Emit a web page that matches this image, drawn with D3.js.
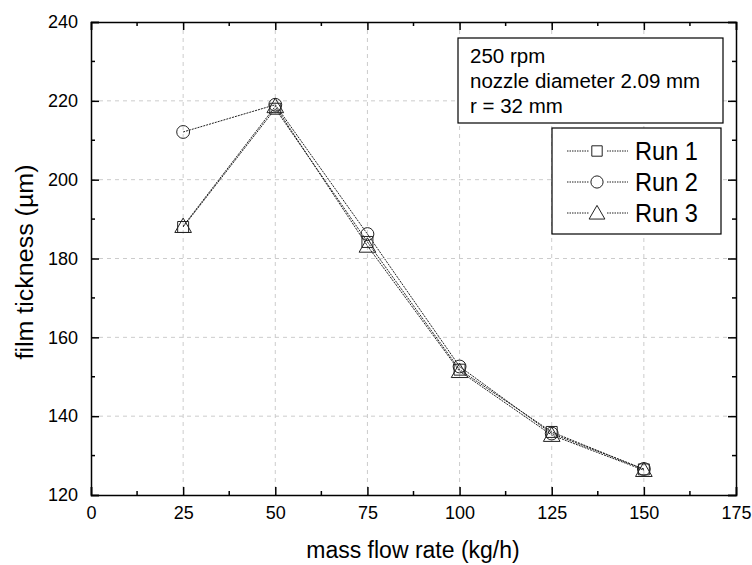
<!DOCTYPE html>
<html>
<head>
<meta charset="utf-8">
<script src="https://cdn.jsdelivr.net/npm/d3@7"></script>
<style>
  body { margin: 0; background: #fff; }
  text { font-family: "Liberation Sans", Arial, sans-serif; }
</style>
</head>
<body>
<svg id="chart" width="752" height="565"></svg>
<script>
const flowRates = [25, 50, 75, 100, 125, 150];
const run1 = [188, 218, 184.2, 151.8, 136, 126.5];
const run2 = [212.1, 219, 186.2, 152.6, 135.6, 126.6];
const run3 = [188.2, 218.6, 183.2, 151.4, 135.2, 126.3];
const xTicks = [0, 25, 50, 75, 100, 125, 150, 175];
const yTicks = [120, 140, 160, 180, 200, 220, 240];
const infoLines = ["250 rpm", "nozzle diameter 2.09 mm", "r = 32 mm"];
const runNames = ["Run 1", "Run 2", "Run 3"];

const svg = d3.select("#chart");
const pLeft = 91, pRight = 736, pTop = 22, pBottom = 495;

const x = d3.scaleLinear().domain([0, 175]).range([pLeft, pRight]);
const y = d3.scaleLinear().domain([120, 240]).range([pBottom, pTop]);

// grid
const grid = svg.append("g")
  .attr("stroke", "#cccccc")
  .attr("stroke-dasharray", "4,4")
  .attr("stroke-width", 1);
grid.selectAll("line.v").data(xTicks.slice(1, -1)).join("line")
  .attr("class", "v")
  .attr("x1", d => x(d)).attr("x2", d => x(d))
  .attr("y1", pTop).attr("y2", pBottom);
grid.selectAll("line.h").data(yTicks.slice(1, -1)).join("line")
  .attr("class", "h")
  .attr("x1", pLeft).attr("x2", pRight)
  .attr("y1", d => y(d)).attr("y2", d => y(d));

// axes, ticks inward, mirrored on top/right
const xMinor = d3.range(12.5, 175, 25);
const yMinor = d3.range(130, 240, 20);

function addX(pos, dir) {
  const g = svg.append("g").attr("transform", `translate(0,${pos})`);
  const a = dir > 0 ? d3.axisBottom(x) : d3.axisTop(x);
  g.call(a.tickValues(xTicks).tickSize(-8).tickFormat(dir > 0 ? d3.format("d") : ""));
  g.selectAll(".tick line").attr("stroke", "#000").attr("stroke-width", 1.5);
  g.select(".domain").attr("stroke", "#000").attr("stroke-width", 1.5);
  g.selectAll(".minor").data(xMinor).join("line")
    .attr("x1", d => x(d)).attr("x2", d => x(d))
    .attr("y1", 0).attr("y2", dir > 0 ? -4 : 4)
    .attr("stroke", "#000").attr("stroke-width", 1.5);
  g.selectAll(".tick text").attr("font-size", 18).attr("fill", "#000")
    .attr("font-family", "Liberation Sans, Arial, sans-serif").attr("y", 11);
}
function addY(pos, dir) {
  const g = svg.append("g").attr("transform", `translate(${pos},0)`);
  const a = dir < 0 ? d3.axisLeft(y) : d3.axisRight(y);
  g.call(a.tickValues(yTicks).tickSize(-8).tickFormat(dir < 0 ? d3.format("d") : ""));
  g.selectAll(".tick line").attr("stroke", "#000").attr("stroke-width", 1.5);
  g.select(".domain").attr("stroke", "#000").attr("stroke-width", 1.5);
  g.selectAll(".minor").data(yMinor).join("line")
    .attr("y1", d => y(d)).attr("y2", d => y(d))
    .attr("x1", 0).attr("x2", dir < 0 ? 4 : -4)
    .attr("stroke", "#000").attr("stroke-width", 1.5);
  g.selectAll(".tick text").attr("font-size", 18).attr("fill", "#000")
    .attr("font-family", "Liberation Sans, Arial, sans-serif").attr("x", -13);
}
addX(pBottom, 1);
addX(pTop, -1);
addY(pLeft, -1);
addY(pRight, 1);

// titles
svg.append("text").attr("x", 413).attr("y", 558)
  .attr("text-anchor", "middle").attr("font-size", 23).text("mass flow rate (kg/h)");
svg.append("text").attr("transform", "translate(33,262) rotate(-90)")
  .attr("text-anchor", "middle").attr("font-size", 23)
  .attr("textLength", 195).attr("lengthAdjust", "spacingAndGlyphs")
  .text("film tickness (µm)");

// series
const series = [run1, run2, run3];
const symbols = [d3.symbolSquare, d3.symbolCircle, d3.symbolTriangle];
const symSizes = [120, 130, 120];
const line = d3.line().x((d, i) => x(flowRates[i])).y(d => y(d));

series.forEach((vals, k) => {
  svg.append("path").datum(vals)
    .attr("d", line).attr("fill", "none")
    .attr("stroke", "#222").attr("stroke-width", 1)
    .attr("stroke-dasharray", "2,1");
});
series.forEach((vals, k) => {
  svg.append("g").selectAll("path").data(vals).join("path")
    .attr("transform", (d, i) => `translate(${x(flowRates[i])},${y(d) + (k === 2 ? 1.5 : 0)})`)
    .attr("d", d3.symbol(symbols[k], symSizes[k]))
    .attr("fill", "none").attr("stroke", "#222").attr("stroke-width", 1);
});

// info box
const info = svg.append("g");
info.append("rect").attr("x", 458).attr("y", 38).attr("width", 265).attr("height", 85)
  .attr("fill", "#fff").attr("stroke", "#000").attr("stroke-width", 1.2);
info.selectAll("text").data(infoLines).join("text")
  .attr("x", 470).attr("y", (d, i) => 63 + i * 25)
  .attr("font-size", 20.5).text(d => d);

// legend
const leg = svg.append("g");
leg.append("rect").attr("x", 552).attr("y", 128).attr("width", 169).attr("height", 106)
  .attr("fill", "#fff").attr("stroke", "#000").attr("stroke-width", 1.2);
runNames.forEach((name, k) => {
  const cy = 151 + k * 31;
  leg.append("line").attr("x1", 567).attr("x2", 628).attr("y1", cy).attr("y2", cy)
    .attr("stroke", "#222").attr("stroke-width", 1).attr("stroke-dasharray", "1.5,1");
  leg.append("rect").attr("x", 589).attr("y", cy - 9).attr("width", 17).attr("height", 18)
    .attr("fill", "#fff");
  leg.append("path").attr("transform", `translate(597,${cy + (k === 2 ? 1.5 : 0)})`)
    .attr("d", d3.symbol(symbols[k], symSizes[k] * 0.9))
    .attr("fill", "#fff").attr("stroke", "#222").attr("stroke-width", 1);
  leg.append("text").attr("x", 635).attr("y", cy + 9).attr("font-size", 26)
    .attr("textLength", 63).attr("lengthAdjust", "spacingAndGlyphs").text(name);
});
</script>
</body>
</html>
